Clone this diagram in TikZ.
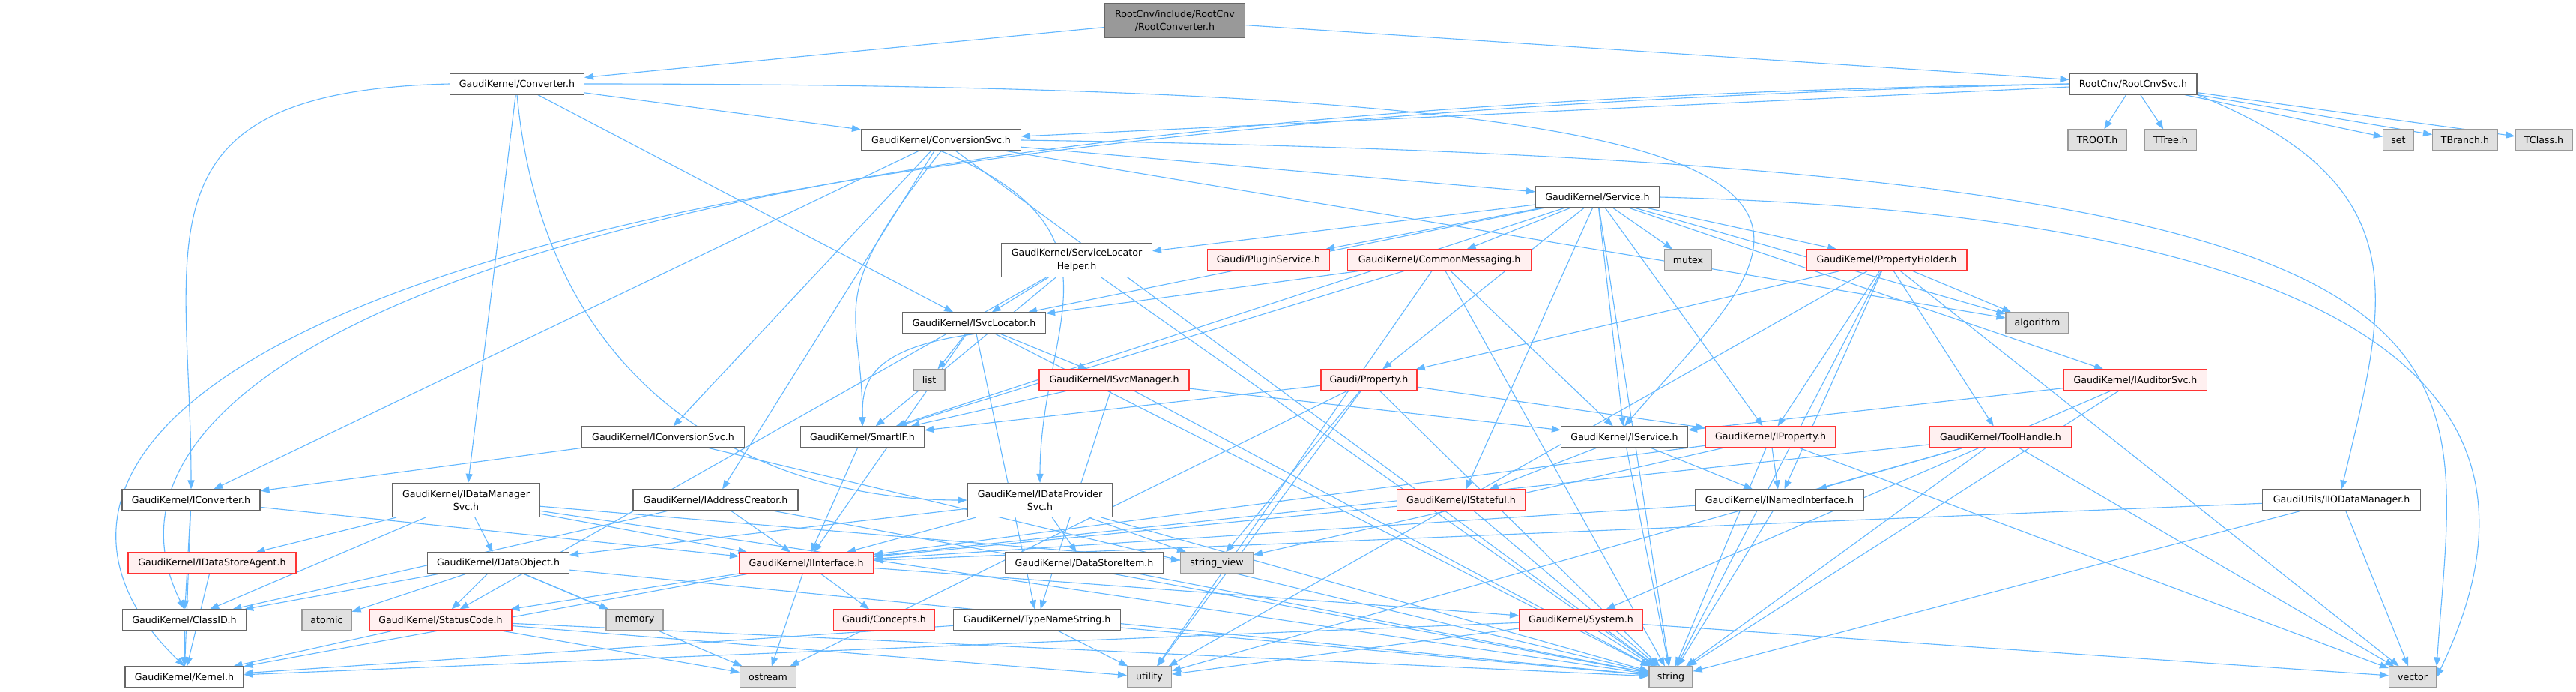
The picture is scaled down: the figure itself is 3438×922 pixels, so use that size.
\documentclass[tikz,border=0pt]{standalone}
\usepackage{fontspec}
\newfontfamily\dvs{DejaVu Sans}
\usetikzlibrary{arrows.meta, backgrounds}
\definecolor{edgeblue}{HTML}{63B8FF}
\definecolor{grey40}{HTML}{666666}
\definecolor{grey60}{HTML}{999999}
\definecolor{sysfill}{HTML}{E0E0E0}
\definecolor{redfill}{HTML}{FFF0F0}
\definecolor{redline}{HTML}{FF3333}

\tikzset{
  hdr/.style={draw=grey40, fill=white, line width=1.1pt, inner sep=0pt,
    minimum height=28pt, align=center,
    font=\dvs\fontsize{12.6}{17.3}\selectfont},
  twoline/.style={minimum height=45pt},
  trunc/.style={draw=redline, fill=redfill},
  sys/.style={draw=grey60, fill=sysfill},
  root/.style={draw=grey40, fill=grey60},
  inc/.style={edgeblue, line width=1.1pt, -{Triangle[length=12pt, width=9pt]}}
}

\begin{document}
\begin{tikzpicture}[x=1pt, y=-1pt]
\useasboundingbox (0,0) rectangle (3438,922);

% rank 0 - 1
\node[hdr, root, twoline, minimum width=187pt] (rc) at (1568,27.5) {RootCnv/include/RootCnv\\/RootConverter.h};
\node[hdr, minimum width=179pt] (conv) at (690,112) {GaudiKernel/Converter.h};
\node[hdr, minimum width=170pt] (rcs) at (2847,112) {RootCnv/RootCnvSvc.h};

% rank 2
\node[hdr, minimum width=213pt] (csvc) at (1256,187) {GaudiKernel/ConversionSvc.h};
\node[hdr, sys, minimum width=78pt] (troot) at (2799,187) {TROOT.h};
\node[hdr, sys, minimum width=69pt] (ttree) at (2897,187) {TTree.h};
\node[hdr, sys, minimum width=41pt] (set) at (3201,187) {set};
\node[hdr, sys, minimum width=87pt] (tbranch) at (3290,187) {TBranch.h};
\node[hdr, sys, minimum width=76pt] (tclass) at (3395,187) {TClass.h};

% rank 3 - 4
\node[hdr, minimum width=165pt] (svc) at (2132,263) {GaudiKernel/Service.h};
\node[hdr, twoline, minimum width=201pt] (slh) at (1437,347) {GaudiKernel/ServiceLocator\\Helper.h};
\node[hdr, trunc, minimum width=163pt] (plug) at (1693,347) {Gaudi/PluginService.h};
\node[hdr, trunc, minimum width=245pt] (cmsg) at (1921,347) {GaudiKernel/CommonMessaging.h};
\node[hdr, sys, minimum width=63pt] (mutex) at (2253,347) {mutex};
\node[hdr, trunc, minimum width=214pt] (ph) at (2518,347) {GaudiKernel/PropertyHolder.h};

% rank 5 - 6
\node[hdr, minimum width=191pt] (isl) at (1300,431) {GaudiKernel/ISvcLocator.h};
\node[hdr, sys, minimum width=84pt] (alg) at (2719,431) {algorithm};
\node[hdr, sys, minimum width=42pt] (list) at (1240,507) {list};
\node[hdr, trunc, minimum width=200pt] (ism) at (1487,507) {GaudiKernel/ISvcManager.h};
\node[hdr, trunc, minimum width=128pt] (prop) at (1827,507) {Gaudi/Property.h};
\node[hdr, trunc, minimum width=191pt] (iaud) at (2850,507) {GaudiKernel/IAuditorSvc.h};

% rank 7
\node[hdr, minimum width=217pt] (icsvc) at (885,583) {GaudiKernel/IConversionSvc.h};
\node[hdr, minimum width=165pt] (smart) at (1151,583) {GaudiKernel/SmartIF.h};
\node[hdr, minimum width=169pt] (iserv) at (2168,583) {GaudiKernel/IService.h};
\node[hdr, trunc, minimum width=174pt] (iprop) at (2363,583) {GaudiKernel/IProperty.h};
\node[hdr, trunc, minimum width=189pt] (thandle) at (2670,583) {GaudiKernel/ToolHandle.h};

% rank 8
\node[hdr, minimum width=184pt] (icon) at (255,667) {GaudiKernel/IConverter.h};
\node[hdr, twoline, minimum width=197pt] (idm) at (622,667) {GaudiKernel/IDataManager\\Svc.h};
\node[hdr, minimum width=220pt] (iac) at (955,667) {GaudiKernel/IAddressCreator.h};
\node[hdr, twoline, minimum width=194pt] (idp) at (1388,667) {GaudiKernel/IDataProvider\\Svc.h};
\node[hdr, trunc, minimum width=171pt] (istate) at (1950,667) {GaudiKernel/IStateful.h};
\node[hdr, minimum width=225pt] (inamed) at (2375,667) {GaudiKernel/INamedInterface.h};
\node[hdr, minimum width=211pt] (iio) at (3125,667) {GaudiUtils/IIODataManager.h};

% rank 9
\node[hdr, trunc, minimum width=224pt] (idsa) at (283,751) {GaudiKernel/IDataStoreAgent.h};
\node[hdr, minimum width=189pt] (dobj) at (665,751) {GaudiKernel/DataObject.h};
\node[hdr, trunc, minimum width=179pt] (iint) at (1076,751) {GaudiKernel/IInterface.h};
\node[hdr, minimum width=211pt] (dsi) at (1447,751) {GaudiKernel/DataStoreItem.h};
\node[hdr, sys, minimum width=97pt] (sv) at (1624,751) {string\_view};

% rank 10
\node[hdr, minimum width=165pt] (classid) at (246,827) {GaudiKernel/ClassID.h};
\node[hdr, sys, minimum width=66pt] (atomic) at (436,827) {atomic};
\node[hdr, trunc, minimum width=190pt] (sc) at (588,827) {GaudiKernel/StatusCode.h};
\node[hdr, sys, minimum width=76pt] (memory) at (847,827) {memory};
\node[hdr, trunc, minimum width=135pt] (concepts) at (1180,827) {Gaudi/Concepts.h};
\node[hdr, minimum width=223pt] (tns) at (1384,827) {GaudiKernel/TypeNameString.h};
\node[hdr, trunc, minimum width=165pt] (system) at (2110,827) {GaudiKernel/System.h};

% rank 11
\node[hdr, minimum width=158pt] (kernel) at (246,903) {GaudiKernel/Kernel.h};
\node[hdr, sys, minimum width=75pt] (ostream) at (1025,903) {ostream};
\node[hdr, sys, minimum width=59pt] (utility) at (1534,903) {utility};
\node[hdr, sys, minimum width=58pt] (string) at (2230,903) {string};
\node[hdr, sys, minimum width=63pt] (vector) at (3220,903) {vector};

% include edges, behind the boxes
\begin{scope}[on background layer]
\fill[white] (0,0) rectangle (3438,922);
\foreach \src/\dsts in {
  rc/{conv,rcs},
  conv/{csvc,idm,isl},
  rcs/{csvc,troot,ttree,set,tbranch,tclass},
  csvc/{svc,icsvc,icon,iac,alg,string},
  svc/{cmsg,plug,slh,isl,smart,mutex,ph,iaud,prop,iserv,iprop,istate,alg,string},
  slh/{isl,smart,sc,string},
  cmsg/{isl,smart,iserv,utility,string},
  ph/{prop,iprop,inamed,thandle,alg,utility,string,vector},
  isl/{iint,ism,list,tns,string},
  ism/{smart,tns,string,iserv},
  prop/{smart,iprop,sv,string,utility,ostream},
  iaud/{iserv,string,system},
  thandle/{inamed,iint,utility,string,vector},
  iserv/{istate,inamed,string},
  iprop/{inamed,iint,sv,string,vector},
  istate/{iint,string},
  inamed/{iint,string},
  iio/{iint,string,vector},
  smart/{iint},
  icsvc/{icon,string},
  icon/{classid,iint,kernel},
  idm/{idsa,classid,dobj,iint,string,sv},
  idsa/{kernel},
  iac/{iint,classid,string},
  idp/{dsi,iint,sv,string,dobj},
  dobj/{classid,sc,atomic,memory,ostream,string},
  iint/{concepts,sc,kernel,ostream,system},
  dsi/{string},
  sc/{kernel,ostream,utility,string},
  tns/{kernel,string,utility},
  system/{kernel,string,vector,utility},
  classid/{kernel}}
  \foreach \dst in \dsts
    \draw[inc] (\src) -- (\dst);

% long edges routed round the graph
\draw[inc] (rcs.west) .. controls +(-2050,30) and +(-160,-320) .. (classid.north);
\draw[inc] (rcs.west) .. controls +(-2550,60) and +(-270,-260) .. (kernel.north);
\draw[inc] (rcs.south east) .. controls +(300,120) and +(60,-250) .. (iio.north);
\draw[inc] (conv.west) .. controls +(-430,10) and +(0,-330) .. (icon.north);
\draw[inc] (conv.east) .. controls +(1921,0) and +(232,-269) .. (iserv.north);
\draw[inc] (conv.south) .. controls +(40,420) and +(-250,0) .. (idp.west);
\draw[inc] (csvc.east) .. controls +(2050,30) and +(30,-450) .. (vector.north east);
\draw[inc] (svc.east) .. controls +(1180,30) and +(120,-250) .. (vector.east);
\draw[inc] (csvc.south) .. controls +(-160,200) and +(0,-160) .. (smart.north);
\draw[inc] (csvc.south) .. controls +(260,110) and +(0,-210) .. (idp.north);
\draw[inc] (isl.south) .. controls +(-150,20) and +(0,-50) .. (smart.north);
\end{scope}

\end{tikzpicture}
\end{document}
